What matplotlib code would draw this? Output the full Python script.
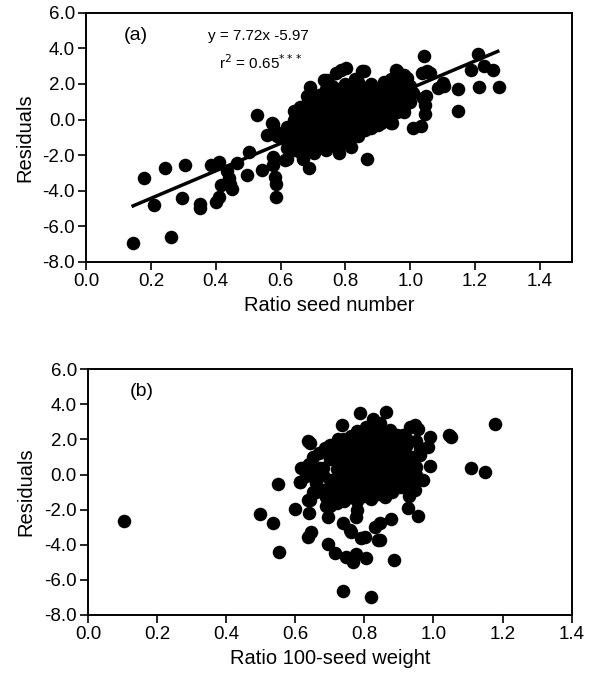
import matplotlib
matplotlib.use('Agg')
import matplotlib.pyplot as plt

plt.rcParams['font.family'] = ['Liberation Sans', 'DejaVu Sans']

# panel (a): ratio seed number vs residuals
# scattered points outside the dense cluster
a_x_out = [0.144, 0.179, 0.210, 0.242, 0.262, 0.296, 0.306, 0.350, 0.352, 0.385,
           0.402, 0.410, 0.409, 0.416, 0.435, 0.440, 0.445, 0.450, 0.465, 0.497,
           0.502, 0.526, 0.543, 0.559, 0.574, 0.577, 0.584, 0.590, 0.577, 0.578,
           0.584, 0.586, 0.586, 0.620, 0.615, 0.670, 0.687, 0.703, 0.690, 0.734,
           0.742, 0.770, 0.785, 0.801, 0.830, 0.852, 0.857, 0.868, 0.816, 0.780,
           0.909, 0.920, 0.945, 0.942, 0.950, 0.960, 0.955, 0.991, 0.980, 0.981,
           1.007, 1.032, 1.043, 1.037, 1.053, 1.060, 1.049, 1.045, 1.045, 1.040,
           1.085, 1.105, 1.100, 1.146, 1.146, 1.187, 1.208, 1.228, 1.254, 1.212,
           1.274, 1.010]
a_y_out = [-6.93, -3.30, -4.81, -2.74, -6.59, -4.43, -2.55, -4.75, -4.95, -2.55,
           -4.62, -4.35, -2.37, -3.68, -2.90, -3.30, -3.60, -3.90, -2.46, -3.11,
           -1.80, 0.23, -2.83, -0.86, -0.20, -0.24, -0.66, -0.90, -2.08, -2.55,
           -3.20, -3.60, -4.34, -2.20, -2.27, -2.20, -2.74, -1.90, 1.83, 2.24,
           2.24, 2.60, 2.80, 2.90, 2.30, 2.71, 2.71, -2.20, -1.52, -1.90,
           -0.20, 0.70, -0.20, -0.20, 2.20, 2.71, 2.80, 2.34, 2.50, 0.45,
           -0.48, -0.35, 3.60, 2.60, 2.71, 2.60, 1.30, 0.80, 0.30, 1.20,
           1.75, 1.86, 2.05, 1.70, 0.47, 2.80, 3.70, 2.99, 2.76, 1.82,
           1.81, 1.50]

# dense cluster, read as columns of points
a_x_blob = ([0.62] * 4 + [0.64] * 6 + [0.66] * 7 + [0.68] * 8 + [0.70] * 8 +
            [0.72] * 8 + [0.74] * 9 + [0.76] * 9 + [0.78] * 9 + [0.80] * 9 +
            [0.82] * 8 + [0.84] * 8 + [0.86] * 7 + [0.88] * 7 + [0.90] * 6 +
            [0.92] * 6 + [0.94] * 6 + [0.96] * 5 + [0.98] * 4 + [1.00] * 3)
a_y_blob = [-1.6, -1.2, -0.8, -0.4,
            -1.7, -1.3, -0.9, -0.5, 0.0, 0.5,
            -1.8, -1.4, -1.0, -0.6, -0.2, 0.2, 0.7,
            -1.6, -1.2, -0.8, -0.4, 0.0, 0.4, 0.9, 1.3,
            -1.8, -1.3, -0.9, -0.5, -0.1, 0.3, 0.7, 1.1,
            -1.5, -1.1, -0.7, -0.3, 0.1, 0.5, 0.9, 1.4,
            -1.7, -1.2, -0.8, -0.4, 0.0, 0.4, 0.8, 1.2, 1.7,
            -1.4, -1.0, -0.6, -0.2, 0.2, 0.6, 1.0, 1.4, 1.9,
            -1.5, -1.1, -0.7, -0.3, 0.1, 0.5, 0.9, 1.3, 1.7,
            -1.2, -0.8, -0.4, 0.0, 0.4, 0.8, 1.2, 1.6, 2.0,
            -1.0, -0.6, -0.2, 0.2, 0.6, 1.0, 1.5, 1.9,
            -0.9, -0.5, -0.1, 0.3, 0.7, 1.1, 1.6, 2.1,
            -0.6, -0.2, 0.2, 0.6, 1.0, 1.4, 1.8,
            -0.5, -0.1, 0.3, 0.8, 1.2, 1.6, 2.0,
            -0.3, 0.1, 0.5, 0.9, 1.3, 1.7,
            0.0, 0.4, 0.8, 1.2, 1.6, 2.1,
            0.2, 0.6, 1.0, 1.5, 1.9, 2.3,
            0.4, 0.9, 1.3, 1.8, 2.2,
            0.7, 1.1, 1.6, 2.0,
            1.0, 1.5, 1.9]

fit_slope = 7.72
fit_intercept = -5.97
fit_x = [0.145, 1.27]

# panel (b): ratio 100-seed weight vs residuals
b_x_out = [0.105, 0.498, 0.536, 0.551, 0.553, 0.599, 0.613, 1.177, 1.045, 1.052,
           1.110, 1.150, 0.787, 0.862, 0.734, 0.724, 0.637, 0.642, 0.686, 0.946,
           0.931, 0.956, 0.989, 0.984, 0.989, 0.631, 0.671, 0.618, 0.642, 0.637,
           0.700, 0.927, 0.955, 0.946, 0.878, 0.637, 0.647, 0.695, 0.714, 0.840,
           0.748, 0.767, 0.777, 0.804, 0.885, 0.737, 0.818, 0.739, 0.758, 0.801,
           0.830, 0.845, 0.777, 0.695, 0.690, 0.780, 0.806, 0.825, 0.845, 0.874,
           0.893, 0.912, 0.845, 0.790, 0.760, 0.640, 0.660, 0.690, 0.613]
b_y_out = [-2.65, -2.27, -2.78, -0.56, -4.40, -1.97, -0.45, 2.87, 2.24, 2.11,
           0.38, 0.16, 3.51, 3.57, 2.80, 2.05, 1.90, 1.80, 1.49, 2.81,
           2.72, 2.62, 2.15, 1.58, 0.48, 0.44, 0.35, 0.35, -1.46, -1.45,
           -1.80, -1.93, -2.37, -0.90, -2.52, -3.54, -3.26, -3.96, -4.49, -3.75,
           -4.68, -4.97, -4.50, -4.77, -4.87, -6.64, -6.96, -2.78, -3.15, -3.54,
           -3.00, -2.75, -2.40, -2.40, -1.80, -2.00, 2.72, 3.19, 2.91, 2.53,
           2.24, 2.24, -3.73, -3.60, -3.30, -2.21, -1.00, -1.20, -0.41]

b_x_blob = ([0.64, 0.66, 0.66, 0.68, 0.70, 0.70, 0.68, 0.65, 0.69, 0.71,
             0.65, 0.67, 0.70, 0.66, 0.68, 0.70, 0.72, 0.72, 0.73, 0.92,
             0.95, 0.96, 0.95, 0.97, 0.63, 0.71, 0.74, 0.93] +
            [0.72] * 5 + [0.74] * 7 + [0.76] * 8 + [0.78] * 9 + [0.80] * 8 +
            [0.82] * 9 + [0.84] * 8 + [0.86] * 8 + [0.88] * 7 + [0.90] * 6 +
            [0.92] * 5 + [0.94] * 3 + [0.96, 0.95, 0.94, 0.91])
b_y_blob = ([0.6, 0.1, -0.5, -0.9, -0.3, 0.9, 0.4, -1.0, -1.3, 1.4,
             1.0, 1.2, 1.7, -0.2, 0.0, -0.8, -1.6, 1.3, 1.9, 2.1,
             1.9, 1.5, 0.0, -0.3, -0.1, -1.1, 2.0, -1.2] +
            [-1.2, -0.7, -0.2, 0.3, 0.8] +
            [-1.5, -1.0, -0.5, 0.0, 0.5, 1.0, 1.5] +
            [-1.3, -0.8, -0.3, 0.2, 0.7, 1.2, 1.7, 2.2] +
            [-1.5, -1.0, -0.5, 0.0, 0.5, 1.0, 1.5, 2.0, 2.5] +
            [-1.2, -0.7, -0.2, 0.3, 0.8, 1.3, 1.8, 2.3] +
            [-1.4, -0.9, -0.4, 0.1, 0.6, 1.1, 1.6, 2.1, 2.6] +
            [-1.1, -0.6, -0.1, 0.4, 0.9, 1.4, 1.9, 2.4] +
            [-1.3, -0.8, -0.3, 0.2, 0.7, 1.2, 1.7, 2.2] +
            [-1.0, -0.5, 0.0, 0.5, 1.0, 1.5, 2.0] +
            [-0.7, -0.2, 0.3, 0.8, 1.3, 1.8] +
            [-0.4, 0.1, 0.6, 1.1, 1.6] +
            [-0.2, 0.4, 1.0] +
            [1.1, 0.44, -0.5, -0.7])

yticks = [6.0, 4.0, 2.0, 0.0, -2.0, -4.0, -6.0, -8.0]
xticks = [0.0, 0.2, 0.4, 0.6, 0.8, 1.0, 1.2, 1.4]

dot = 95


def StyleAxes(ax, xmax, xlabel):
    ax.set_xlim(0, xmax)
    ax.set_ylim(-8, 6)
    ax.set_xticks(xticks)
    ax.set_yticks(yticks)
    ax.set_xticklabels(['%.1f' % t for t in xticks], fontsize=13.5)
    ax.set_yticklabels(['%.1f' % t for t in yticks], fontsize=13.5)
    ax.tick_params(direction='out', length=6, width=1.2, pad=2)
    for s in ax.spines.values():
        s.set_linewidth(1.4)
    ax.set_xlabel(xlabel, fontsize=14.5, labelpad=4)
    ax.set_ylabel('Residuals', fontsize=14.5, labelpad=6)


fig = plt.figure(figsize=(5.9, 6.75), dpi=100)

ax1 = fig.add_axes([0.146, 0.612, 0.824, 0.369])
ax1.scatter(a_x_out, a_y_out, s=dot, c='black', linewidths=0, zorder=3)
ax1.scatter(a_x_blob, a_y_blob, s=dot, c='black', linewidths=0, zorder=3)
fit_y = [fit_slope * v + fit_intercept for v in fit_x]
ax1.plot(fit_x, fit_y, color='black', lw=2.5, zorder=4)
StyleAxes(ax1, 1.5, 'Ratio seed number')
ax1.text(0.115, 4.45, '(a)', fontsize=14)
ax1.text(0.53, 4.45, 'y = %.2fx %.2f' % (fit_slope, fit_intercept), fontsize=11, ha='center')
ax1.text(0.54, 2.85, 'r$^2$ = 0.65$^{***}$', fontsize=11, ha='center')

ax2 = fig.add_axes([0.149, 0.089, 0.820, 0.364])
ax2.scatter(b_x_out, b_y_out, s=dot, c='black', linewidths=0, zorder=3)
ax2.scatter(b_x_blob, b_y_blob, s=dot, c='black', linewidths=0, zorder=3)
StyleAxes(ax2, 1.4, 'Ratio 100-seed weight')
ax2.text(0.12, 4.45, '(b)', fontsize=14)

fig.savefig('out.png', dpi=100)
